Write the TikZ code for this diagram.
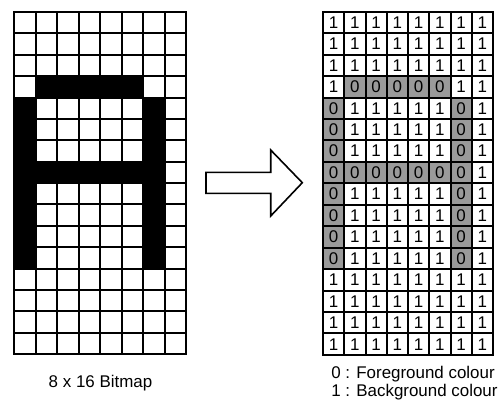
\documentclass[tikz,border=0pt]{standalone}
\usepackage{fontspec}
\setmainfont{Liberation Sans}
\definecolor{fggray}{HTML}{9A9A9A}
\def\bitrows{{1,1,1,1,1,1,1,1},{1,1,1,1,1,1,1,1},{1,1,1,1,1,1,1,1},{1,0,0,0,0,0,1,1},{0,1,1,1,1,1,0,1},{0,1,1,1,1,1,0,1},{0,1,1,1,1,1,0,1},{0,0,0,0,0,0,0,1},{0,1,1,1,1,1,0,1},{0,1,1,1,1,1,0,1},{0,1,1,1,1,1,0,1},{0,1,1,1,1,1,0,1},{1,1,1,1,1,1,1,1},{1,1,1,1,1,1,1,1},{1,1,1,1,1,1,1,1},{1,1,1,1,1,1,1,1}}
\begin{document}
\begin{tikzpicture}[x=0.75pt,y=-0.75pt,
  pixcell/.style={draw=black,line width=1.5pt,minimum width=16.125pt,minimum height=16.03pt,inner sep=0pt,outer sep=0pt,anchor=north west},
  bitcell/.style={draw=black,line width=1.5pt,minimum width=15.94pt,minimum height=16.09pt,inner sep=0pt,outer sep=0pt,anchor=north west,font=\fontsize{12.7}{15}\selectfont},
  caption/.style={font=\fontsize{12.7}{15}\selectfont,inner sep=0pt,anchor=base},
  bigarrow/.style={draw=black,line width=1.2pt,fill=white,line join=miter}]
\useasboundingbox (0,0) rectangle (498,408);
% left bitmap
\foreach \row [count=\r from 0] in \bitrows {
  \foreach \v [count=\c from 0] in \row {
    \ifnum\v=0 \def\cellfill{black}\else\def\cellfill{white}\fi
    \node[pixcell,fill=\cellfill] (l-\r-\c) at ({14+\c*21.5},{12+\r*21.375}) {};
  }
}
% right bitmap
\foreach \row [count=\r from 0] in \bitrows {
  \foreach \v [count=\c from 0] in \row {
    \ifnum\v=0 \def\cellfill{fggray}\else\def\cellfill{white}\fi
    \node[bitcell,fill=\cellfill] (r-\r-\c) at ({323+\c*21.25},{11.7+\r*21.45}) {\v};
  }
}
% arrow
\coordinate (a1) at (206,172.3);
\coordinate (a2) at (270.7,172.3);
\coordinate (a3) at (270.7,150);
\coordinate (a4) at (302.3,182.7);
\coordinate (a5) at (270.7,216);
\coordinate (a6) at (270.7,193.3);
\coordinate (a7) at (206,193.3);
\draw[bigarrow] (a1) -- (a2) -- (a3) -- (a4) -- (a5) -- (a6) -- (a7) -- cycle;
% captions
\node[caption] (bmcap) at (100.5,387) {8 x 16 Bitmap};
\node[caption,anchor=base west] (leg0) at (331,378) {0 : Foreground colour};
\node[caption,anchor=base west] (leg1) at (331,396) {1 : Background colour};
\end{tikzpicture}
\end{document}
